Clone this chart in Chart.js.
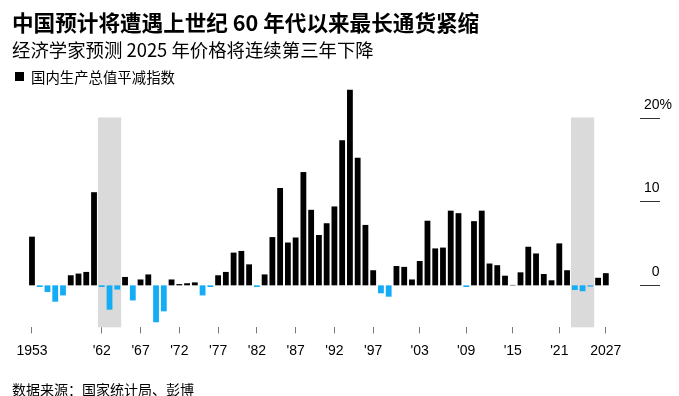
<!DOCTYPE html>
<html>
<head>
<meta charset="utf-8">
<script src="https://cdn.jsdelivr.net/npm/chart.js@4.4.1/dist/chart.umd.min.js"></script>
<style>
  body { margin: 0; background: #fff; }
  #wrap { position: relative; width: 679px; height: 396px; overflow: hidden; font-family: "Noto Sans CJK SC", sans-serif; color: #000; }
  .txt { position: absolute; left: 12px; line-height: 1; white-space: nowrap; }
  #title { top: 11px; font-size: 21.6px; font-weight: bold; }
  #subtitle { top: 39.5px; font-size: 18.4px; }
  #legend { top: 70px; left: 31px; font-size: 14.4px; }
  #legendBox { position: absolute; left: 15px; top: 72px; width: 8.5px; height: 9px; background: #000; }
  #footer { top: 381.5px; font-size: 14px; }
  canvas { position: absolute; left: 0; top: 0; }
</style>
</head>
<body>
<div id="wrap">
  <canvas id="chart" width="679" height="396"></canvas>
  <div class="txt" id="title">中国预计将遭遇上世纪 60 年代以来最长通货紧缩</div>
  <div class="txt" id="subtitle">经济学家预测 2025 年价格将连续第三年下降</div>
  <div id="legendBox"></div>
  <div class="txt" id="legend">国内生产总值平减指数</div>
  <div class="txt" id="footer">数据来源：国家统计局、彭博</div>
</div>
<script>
// years 1953..2027
const years = [];
for (let y = 1953; y <= 2027; y++) years.push(y);

// GDP deflator, % change
const deflator = [
  5.8, -0.2, -0.8, -1.95, -1.2, 1.2, 1.4, 1.6, 11.1, -0.2,     // 1953-1962
  -2.9, -0.5, 1.0, -1.8, 0.7, 1.3, -4.4, -3.1, 0.7, 0.15,      // 1963-1972
  0.25, 0.35, -1.2, -0.2, 1.2, 1.6, 3.9, 4.1, 2.5, -0.2,       // 1973-1982
  1.3, 5.75, 11.6, 5.1, 5.7, 13.5, 9.0, 6.0, 7.4, 9.4,         // 1983-1992
  17.3, 23.3, 15.2, 7.2, 1.8, -0.95, -1.35, 2.3, 2.2, 0.7,     // 1993-2002
  2.9, 7.7, 4.4, 4.5, 8.9, 8.6, -0.2, 7.65, 8.9, 2.6,          // 2003-2012
  2.4, 1.15, 0.05, 1.55, 4.6, 3.8, 1.35, 0.6, 5.0, 1.8,        // 2013-2022
  -0.55, -0.7, -0.15, 0.9, 1.45                                // 2023-2027
];

// x-axis labels
const tickYears  = [1953, 1962, 1967, 1972, 1977, 1982, 1987, 1992, 1997, 2003, 2009, 2015, 2021, 2027];
const tickLabels = ['1953', "'62", "'67", "'72", "'77", "'82", "'87", "'92", "'97", "'03", "'09", "'15", "'21", '2027'];

// y-axis labels (right side)
const yTicks = [0, 10, 20];

// shaded deflation periods [first year, last year]
const shadeStart = [1962, 2023];
const shadeEnd   = [1964, 2025];

const BLACK = '#000000';
const BLUE = '#14acf5';

const shading = {
  id: 'shading',
  beforeDatasetsDraw(chart) {
    const { ctx, chartArea, scales } = chart;
    const x = scales.x;
    const step = x.getPixelForValue(1) - x.getPixelForValue(0);
    ctx.save();
    ctx.fillStyle = '#dadada';
    shadeStart.forEach((s, i) => {
      const x0 = x.getPixelForValue(years.indexOf(s)) - step / 2;
      const x1 = x.getPixelForValue(years.indexOf(shadeEnd[i])) + step / 2;
      ctx.fillRect(x0, chartArea.top, x1 - x0, chartArea.bottom - chartArea.top);
    });
    ctx.restore();
  }
};

const rightAxis = {
  id: 'rightAxis',
  afterDraw(chart) {
    const { ctx, scales } = chart;
    const y = scales.y;
    ctx.save();
    ctx.strokeStyle = '#333';
    ctx.lineWidth = 1;
    ctx.fillStyle = '#000';
    ctx.font = '14px "Liberation Sans", Arial, sans-serif';
    ctx.textBaseline = 'alphabetic';
    yTicks.forEach((v, i) => {
      const py = Math.round(y.getPixelForValue(v)) + 0.5;
      ctx.beginPath();
      ctx.moveTo(640, py);
      ctx.lineTo(660, py);
      ctx.stroke();
      ctx.textAlign = 'right';
      ctx.fillText(String(v), 659.5, py - 9.5);
      if (i === yTicks.length - 1) {
        ctx.textAlign = 'left';
        ctx.fillText('%', 659.5, py - 9.5);
      }
    });
    ctx.restore();
  }
};

new Chart(document.getElementById('chart'), {
  type: 'bar',
  data: {
    labels: years,
    datasets: [{
      data: deflator,
      backgroundColor: deflator.map(v => v < 0 ? BLUE : BLACK),
      borderWidth: 0,
      barPercentage: 0.75,
      categoryPercentage: 1.0,
      clip: false
    }]
  },
  options: {
    responsive: false,
    animation: false,
    devicePixelRatio: 1,
    layout: { padding: { left: 28.1, right: 69.3, top: 117.5, bottom: 0 } },
    plugins: { legend: { display: false }, tooltip: { enabled: false } },
    scales: {
      x: {
        afterFit(scale) { scale.height = 68.7; },
        border: { display: false },
        grid: { drawOnChartArea: false, drawTicks: true, tickLength: 6, color: '#777', offset: false },
        ticks: {
          autoSkip: false,
          maxRotation: 0,
          padding: 9,
          color: '#000',
          font: { family: '"Liberation Sans", Arial, sans-serif', size: 14 },
          callback(val, idx) {
            const k = tickYears.indexOf(years[idx]);
            return k >= 0 ? tickLabels[k] : null;
          }
        }
      },
      y: {
        display: false,
        min: -5,
        max: 20
      }
    }
  },
  plugins: [shading, rightAxis]
});
</script>
</body>
</html>
